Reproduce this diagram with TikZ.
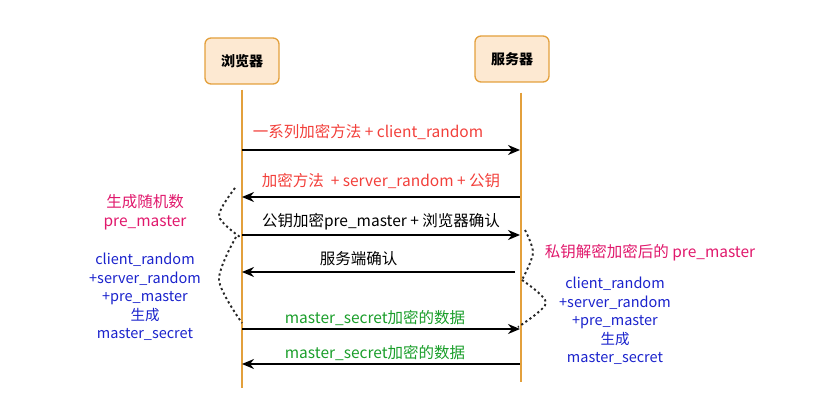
\documentclass[tikz,border=0pt]{standalone}
\usepackage{fontspec}
\setmainfont{Noto Sans CJK SC}
\usetikzlibrary{arrows.meta}
\definecolor{boxfill}{HTML}{FDE9D2}
\definecolor{boxline}{HTML}{E3A03C}
\definecolor{msgred}{HTML}{F23F3A}
\definecolor{notepink}{HTML}{E0186C}
\definecolor{noteblue}{HTML}{1A22CC}
\definecolor{msggreen}{HTML}{1A9E2A}
\tikzstyle{party} = [rectangle, rounded corners=6pt, minimum width=74pt,
minimum height=46pt, draw=boxline, line width=1.3pt, fill=boxfill,
font=\fontsize{14}{16}\selectfont\bfseries]
\tikzstyle{lifeline} = [draw=boxline, line width=1.6pt]
\tikzstyle{msg} = [line width=1.4pt, -{Stealth[length=12pt,width=10pt]}]
\tikzstyle{msgtext} = [font=\fontsize{15.5}{17}\selectfont, inner sep=0pt]
\tikzstyle{note} = [align=center, font=\fontsize{14.5}{18.5}\selectfont, inner sep=0pt]
\tikzstyle{dotcurve} = [dash pattern=on 2.2pt off 2.8pt, line width=1.9pt, black!85]

\begin{document}
\begin{tikzpicture}[x=1pt, y=-1pt]
    \useasboundingbox (0,0) rectangle (817,404);
    \node (browser) [party] at (242,61) {浏览器};
    \node (server) [party] at (512,59) {服务器};
    \coordinate (bEnd) at (242,388);
    \coordinate (sEnd) at (521,382);
    \draw [lifeline] ([yshift=-5pt]browser.south) -- (bEnd);
    \draw [lifeline] (server.south -| sEnd) ++(0,10) -- (sEnd);
    % messages
    \coordinate (b1) at (242,150); \coordinate (s1) at (520,150);
    \coordinate (b2) at (242,197); \coordinate (s2) at (520,197);
    \coordinate (b3) at (242,235); \coordinate (s3) at (520,235);
    \coordinate (b4) at (242,272); \coordinate (s4) at (515,272);
    \coordinate (b5) at (242,329); \coordinate (s5) at (520,329);
    \coordinate (b6) at (242,364); \coordinate (s6) at (520,364);
    \draw [msg] (b1) -- node[msgtext, above=10pt, xshift=-13pt, text=msgred]
    {一系列加密方法 + client\_random} (s1);
    \draw [msg] (s2) -- node[msgtext, above=8pt, text=msgred]
    {加密方法 \ + server\_random + 公钥} (b2);
    \draw [msg] (b3) -- node[msgtext, above=4pt] {公钥加密pre\_master + 浏览器确认} (s3);
    \draw [msg] (s4) -- node[msgtext, above=6pt, xshift=-20pt] {服务端确认} (b4);
    \draw [msg] (b5) -- node[msgtext, above=3pt, xshift=-6pt, text=msggreen]
    {master\_secret加密的数据} (s5);
    \draw [msg] (s6) -- node[msgtext, above=3pt, xshift=-6pt, text=msggreen]
    {master\_secret加密的数据} (b6);
    % browser side notes
    \node (bRand) [note, text=notepink, font=\fontsize{15.5}{19}\selectfont] at (145,212)
    {生成随机数\\pre\_master};
    \node (bSecret) [note, text=noteblue] at (145,297)
    {client\_random\\+server\_random\\+pre\_master\\生成\\master\_secret};
    \draw [dotcurve] plot[smooth] coordinates {(235,188) (219,216) (240,237)};
    \draw [dotcurve] plot[smooth] coordinates {(236,237) (219,280) (242,323)};
    % server side notes
    \node (sDecrypt) [note, text=notepink, font=\fontsize{15.5}{19}\selectfont] at (650,253)
    {私钥解密加密后的 pre\_master};
    \node (sSecret) [note, text=noteblue] at (615,321)
    {client\_random\\+server\_random\\+pre\_master\\生成\\master\_secret};
    \draw [dotcurve] plot[smooth] coordinates {(525,230) (533,253) (522,280)};
    \draw [dotcurve] plot[smooth] coordinates {(522,280) (546,303) (518,327)};
\end{tikzpicture}
\end{document}
